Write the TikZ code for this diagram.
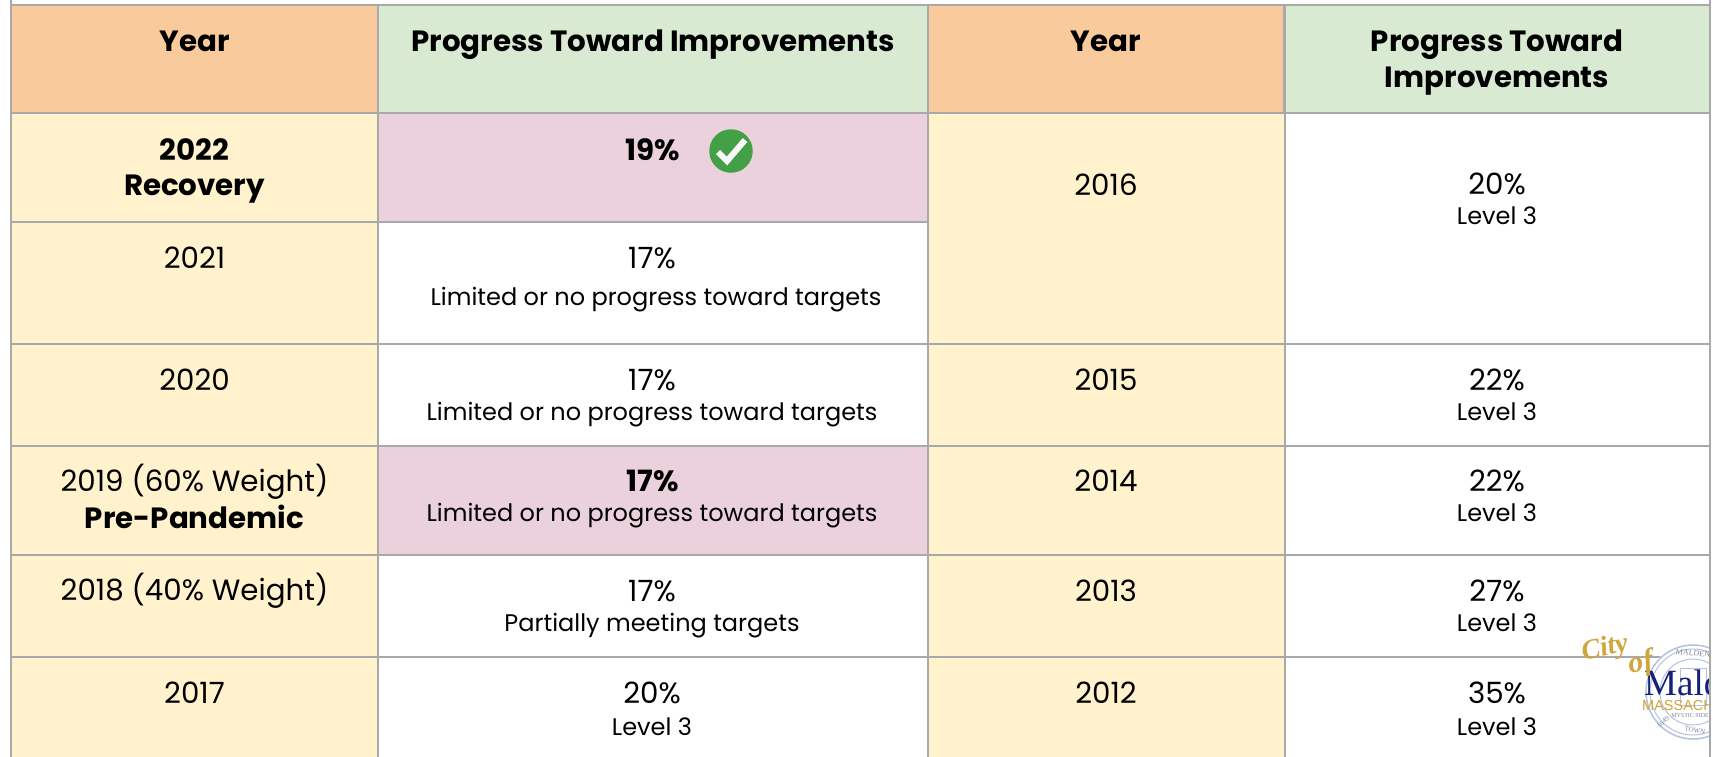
\documentclass[tikz,border=0pt]{standalone}
\usepackage{fontspec}
\setmainfont{Poppins}
\newfontfamily\serifx{Liberation Serif}
\newfontfamily\sansx{Liberation Sans}
\definecolor{hdorange}{HTML}{F9CB9C}
\definecolor{hdgreen}{HTML}{D9EAD3}
\definecolor{yel}{HTML}{FFF2CC}
\definecolor{pinkc}{HTML}{EAD1DC}
\definecolor{gridc}{HTML}{A9A9A9}
\definecolor{gold}{HTML}{CFA53C}
\definecolor{navyc}{HTML}{14207A}
\definecolor{sealc}{HTML}{B4C3DE}
\definecolor{okgreen}{HTML}{43A047}
\newcommand{\szbig}{\fontsize{29.3}{31}\selectfont}
\newcommand{\szsmall}{\fontsize{24}{25}\selectfont}
\tikzset{
  x=1pt,y=-1pt,
  cellbox/.style={draw=gridc,line width=2pt,anchor=north west,inner sep=0pt,outer sep=0pt},
  big/.style={anchor=base,inner sep=0pt,font=\szbig},
  bigb/.style={anchor=base,inner sep=0pt,font=\szbig\bfseries},
  small/.style={anchor=base,inner sep=0pt,font=\szsmall},
}
% #1 name, #2 x0, #3 y0, #4 width, #5 height, #6 fill
\newcommand{\cellx}[6]{\node[cellbox,fill=#6,minimum width=#4pt,minimum height=#5pt] (#1) at (#2,#3) {};}
\begin{document}
\begin{tikzpicture}
\useasboundingbox (0,0) rectangle (1713,756);
\fill[white] (0,0) rectangle (1713,756);
\draw[gridc,line width=2pt] (11,0) -- (11,5);
\draw[gridc,line width=2pt] (1710,0) -- (1710,5);
\cellx{h1}{11}{5}{367}{108}{hdorange}
\cellx{h2}{378}{5}{550}{108}{hdgreen}
\cellx{h3}{928}{5}{356}{108}{hdorange}
\cellx{h4}{1285}{5}{425}{108}{hdgreen}
\cellx{a1}{11}{113}{367}{109}{yel}
\cellx{b1}{378}{113}{550}{109}{pinkc}
\cellx{a2}{11}{222}{367}{122}{yel}
\cellx{b2}{378}{222}{550}{122}{white}
\cellx{c1}{928}{113}{357}{231}{yel}
\cellx{d1}{1285}{113}{425}{231}{white}
\cellx{a3}{11}{344}{367}{102}{yel}
\cellx{b3}{378}{344}{550}{102}{white}
\cellx{c3}{928}{344}{357}{102}{yel}
\cellx{d3}{1285}{344}{425}{102}{white}
\cellx{a4}{11}{446}{367}{109}{yel}
\cellx{b4}{378}{446}{550}{109}{pinkc}
\cellx{c4}{928}{446}{357}{109}{yel}
\cellx{d4}{1285}{446}{425}{109}{white}
\cellx{a5}{11}{555}{367}{102}{yel}
\cellx{b5}{378}{555}{550}{102}{white}
\cellx{c5}{928}{555}{357}{102}{yel}
\cellx{d5}{1285}{555}{425}{102}{white}
\cellx{a6}{11}{657}{367}{105}{yel}
\cellx{b6}{378}{657}{550}{105}{white}
\cellx{c6}{928}{657}{357}{105}{yel}
\cellx{d6}{1285}{657}{425}{105}{white}
% header text
\node[bigb] (t1) at (194.5,51) {Year};
\node[bigb] (t2) at (653,51) {Progress Toward Improvements};
\node[bigb] (t3) at (1106,51) {Year};
\node[bigb] (t4) at (1497,51) {Progress Toward};
\node[bigb] (t5) at (1497,87) {Improvements};
% left half
\node[bigb] (r1a) at (194.5,160) {2022};
\node[bigb] (r1b) at (194.5,195) {Recovery};
\node[bigb] (r1c) at (653,160) {19\%};
\node[circle,fill=okgreen,minimum size=43.5pt,inner sep=0pt] (chk) at (731,151) {};
\draw[white!85!pinkc,line width=6pt] (chk.center) ++(-13,1) -- ++(9,9) -- ++(18,-21);
\node[big] (r2a) at (194.5,268) {2021};
\node[big] (r2b) at (652,268) {17\%};
\node[small] (r2c) at (656,305) {Limited or no progress toward targets};
\node[big] (r3a) at (194.5,390) {2020};
\node[big] (r3b) at (652,390) {17\%};
\node[small] (r3c) at (652,420) {Limited or no progress toward targets};
\node[big] (r4a) at (194.5,491) {2019 (60\% Weight)};
\node[bigb] (r4b) at (194.5,528) {Pre-Pandemic};
\node[bigb] (r4c) at (653,491) {17\%};
\node[small] (r4d) at (652,521) {Limited or no progress toward targets};
\node[big] (r5a) at (194.5,600) {2018 (40\% Weight)};
\node[big] (r5b) at (652,601) {17\%};
\node[small] (r5c) at (652,631) {Partially meeting targets};
\node[big] (r6a) at (194.5,703) {2017};
\node[big] (r6b) at (652,703) {20\%};
\node[small] (r6c) at (652,735) {Level 3};
% right half
\node[big] (s1a) at (1106,195) {2016};
\node[big] (s1b) at (1497,194) {20\%};
\node[small] (s1c) at (1497,224) {Level 3};
\node[big] (s2a) at (1106,390) {2015};
\node[big] (s2b) at (1497,390) {22\%};
\node[small] (s2c) at (1497,420) {Level 3};
\node[big] (s3a) at (1106,491) {2014};
\node[big] (s3b) at (1497,491) {22\%};
\node[small] (s3c) at (1497,521) {Level 3};
\node[big] (s4a) at (1106,601) {2013};
\node[big] (s4b) at (1497,601) {27\%};
\node[small] (s4c) at (1497,631) {Level 3};
\node[big] (s5a) at (1106,703) {2012};
\node[big] (s5b) at (1497,703) {35\%};
\node[small] (s5c) at (1497,735) {Level 3};
% logo
\begin{scope}
\clip (1600,630) rectangle (1709,750);
\fill[white] (1693,692) circle (48);
\draw[sealc,line width=1.5pt] (1693,692) circle (47);
\draw[sealc,line width=1pt] (1693,692) circle (43);
\draw[sealc,line width=1pt] (1693,692) circle (33);
\draw[sealc,line width=.8pt] (1680,668) -- (1706,668) -- (1706,705) -- (1680,705) -- cycle;
\node[font=\serifx\fontsize{8}{8}\selectfont,text=sealc!70!black,rotate=-5,inner sep=0pt] (sealtop) at (1693,653) {MALDEN};
\node[font=\serifx\fontsize{6}{6}\selectfont,text=sealc!70!black,inner sep=0pt] (sealmid) at (1690,716) {MYSTIC SIDE};
\node[font=\serifx\fontsize{7}{7}\selectfont,text=sealc!70!black,rotate=-10,inner sep=0pt] (sealtown) at (1695,730) {TOWN};
\node[font=\serifx\fontsize{7}{7}\selectfont,text=sealc!70!black,rotate=40,inner sep=0pt] (sealyr) at (1663,722) {1649};
\node[font=\serifx\fontsize{37}{37}\selectfont,text=navyc,anchor=base west,inner sep=0pt] (mald) at (1644,695) {Malden};
\node[font=\sansx\fontsize{14.5}{15}\selectfont,text=gold,anchor=base west,inner sep=0pt] (mass) at (1642,710) {MASSACHUSETTS};
\end{scope}
\node[font=\serifx\itshape\bfseries\fontsize{28}{28}\selectfont,text=gold,rotate=12,inner sep=0pt] (city) at (1605,649) {City};
\node[font=\serifx\itshape\bfseries\fontsize{30}{30}\selectfont,text=gold,rotate=12,inner sep=0pt] (of) at (1641,664) {of};
\draw[gridc,line width=2pt] (1710,0) -- (1710,756);
\end{tikzpicture}
\end{document}
